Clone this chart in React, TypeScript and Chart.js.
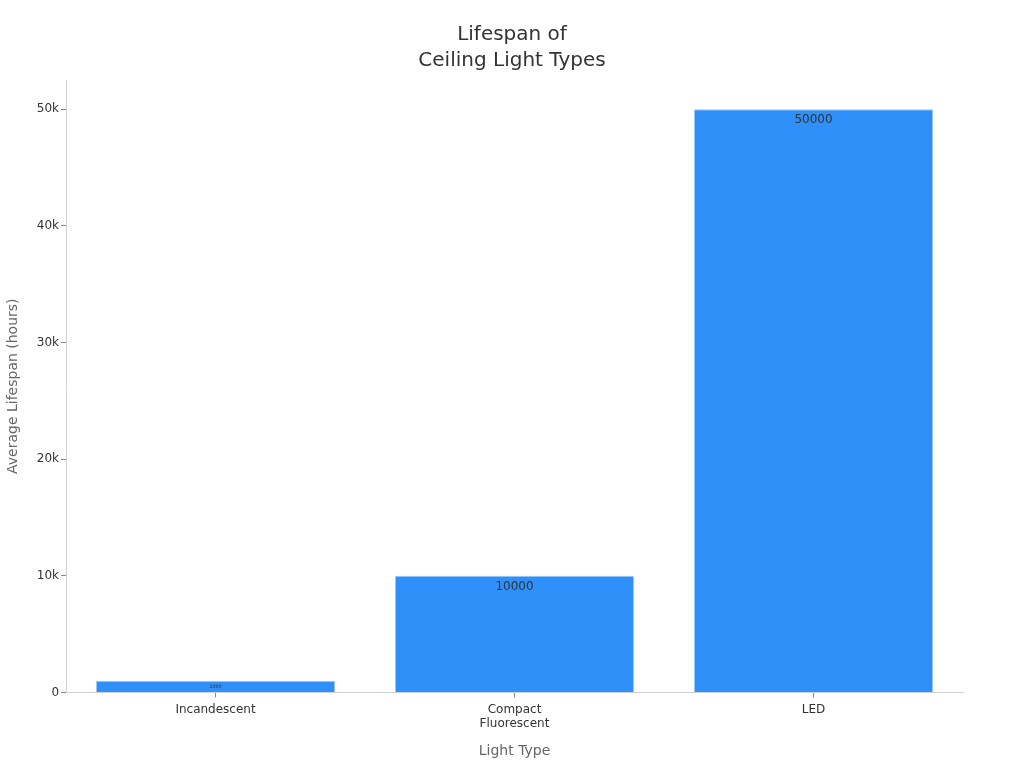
import React, { useEffect, useRef } from 'react';
import { Chart, registerables } from 'chart.js';

Chart.register(...registerables);

const categories = [['Incandescent'], ['Compact', 'Fluorescent'], ['LED']];
const lifespans = [1000, 10000, 50000];
const yTicks = [0, 10000, 20000, 30000, 40000, 50000];

const FONT = "'DejaVu Sans', sans-serif";

// draws each value just inside the top of its bar
const barLabels = {
  id: 'barLabels',
  afterDatasetsDraw(chart: any) {
    const ctx = chart.ctx;
    const meta = chart.getDatasetMeta(0);
    ctx.save();
    meta.data.forEach((bar: any, i: number) => {
      const h = bar.base - bar.y;
      const size = Math.min(12, h * 0.42);
      ctx.font = `${size}px ${FONT}`;
      ctx.fillStyle = '#333333';
      ctx.textAlign = 'center';
      ctx.textBaseline = 'middle';
      const off = size >= 12 ? 11 : h / 2;
      ctx.fillText(String(lifespans[i]), bar.x, bar.y + off);
    });
    ctx.restore();
  },
};

const App: React.FC = () => {
  const canvasRef = useRef<HTMLCanvasElement>(null);
  const chartRef = useRef<Chart | null>(null);

  useEffect(() => {
    document.body.style.margin = '0';
    if (!canvasRef.current) return;
    if (chartRef.current) chartRef.current.destroy();

    chartRef.current = new Chart(canvasRef.current, {
      type: 'bar',
      data: {
        labels: categories,
        datasets: [
          {
            data: lifespans,
            backgroundColor: '#2E90F8',
            borderColor: '#9CC8F5',
            borderWidth: 1,
            barPercentage: 0.8,
            categoryPercentage: 1,
          },
        ],
      },
      options: {
        animation: false,
        responsive: true,
        maintainAspectRatio: false,
        layout: { padding: { top: 14, right: 0, bottom: 8, left: 0 } },
        plugins: {
          legend: { display: false },
          tooltip: { enabled: false },
          title: {
            display: true,
            text: ['Lifespan of', 'Ceiling Light Types'],
            color: '#333333',
            font: { family: FONT, size: 20, weight: 'normal', lineHeight: 1.3 },
            padding: { top: 8, bottom: 6 },
          },
        },
        scales: {
          x: {
            border: { color: '#d0d0d0' },
            grid: { display: true, drawOnChartArea: false, offset: false, tickLength: 5, color: '#888888' },
            ticks: { color: '#333333', font: { family: FONT, size: 12 }, padding: 5 },
            title: {
              display: true,
              text: 'Light Type',
              color: '#666666',
              font: { family: FONT, size: 14 },
              padding: { top: 7, bottom: 0 },
            },
          },
          y: {
            min: 0,
            max: 52500,
            border: { color: '#d0d0d0' },
            grid: { display: true, drawOnChartArea: false, tickLength: 5, color: '#888888' },
            afterBuildTicks: (axis: any) => {
              axis.ticks = yTicks.map((v) => ({ value: v }));
            },
            ticks: {
              color: '#333333',
              font: { family: FONT, size: 12 },
              padding: 2,
              callback: (v: any) => (v === 0 ? '0' : `${v / 1000}k`),
            },
            title: {
              display: true,
              text: 'Average Lifespan (hours)',
              color: '#666666',
              font: { family: FONT, size: 14 },
              padding: { top: 5, bottom: 13 },
            },
          },
          // empty right-hand spacer so the title centres on the whole canvas
          yRight: {
            type: 'linear',
            position: 'right',
            display: true,
            grid: { display: false },
            border: { display: false },
            ticks: { display: false },
            afterFit: (axis: any) => {
              axis.width = 61;
            },
          },
        },
      },
      plugins: [barLabels],
    });

    return () => {
      if (chartRef.current) {
        chartRef.current.destroy();
        chartRef.current = null;
      }
    };
  }, []);

  return (
    <div style={{ width: 1024, height: 768, position: 'relative' }}>
      <canvas ref={canvasRef}></canvas>
    </div>
  );
};

export default App;
